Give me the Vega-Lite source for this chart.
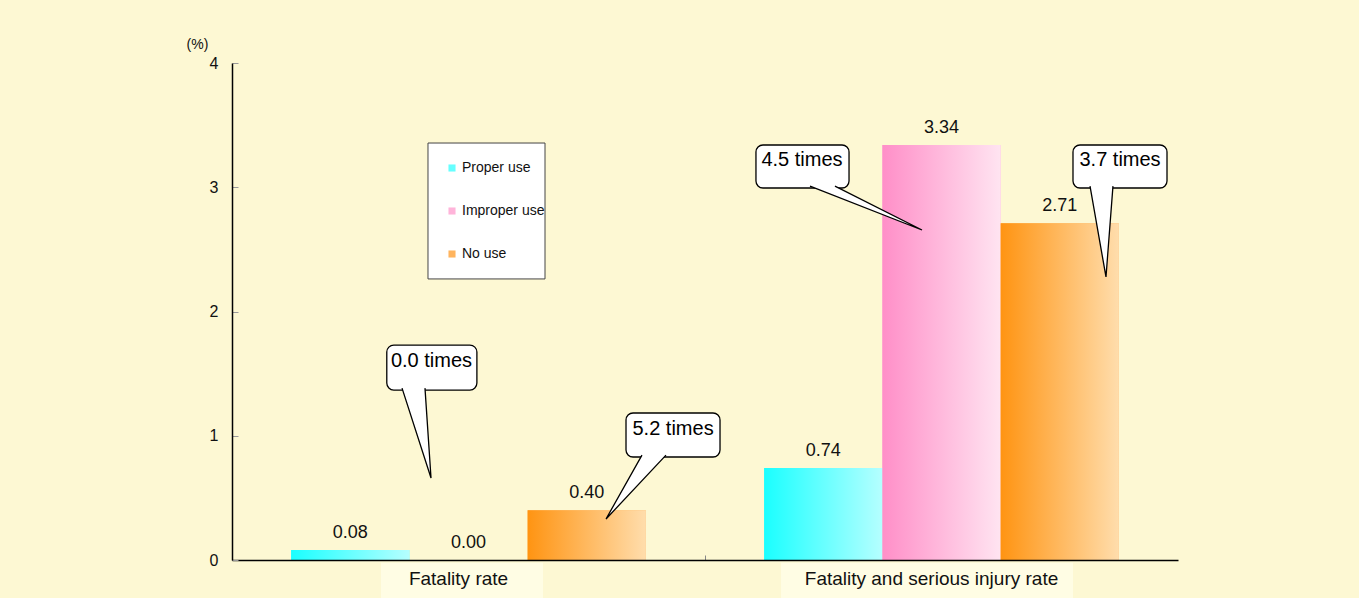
{
  "$schema": "https://vega.github.io/schema/vega-lite/v6.json",
  "width": 946,
  "height": 497,
  "autosize": {"type": "none"},
  "padding": {"left": 232, "top": 63, "right": 181, "bottom": 38},
  "background": "#FDF8D3",
  "config": {
    "view": {"stroke": null},
    "font": "Liberation Sans",
    "axis": {"labelFont": "Liberation Sans", "titleFont": "Liberation Sans", "labelColor": "#111", "titleColor": "#111", "grid": false, "domainColor": "#000", "domainWidth": 1.5},
    "axisY": {
      "titleAngle": 0,
      "titleX": -35,
      "titleY": -19,
      "titleAlign": "center",
      "titleBaseline": "middle",
      "titleFontSize": 14,
      "titleFontWeight": "normal",
      "labelFontSize": 16,
      "labelPadding": 20,
      "tickSize": -6,
      "tickColor": "#999"
    },
    "axisX": {
      "labelAngle": 0,
      "labelFontSize": 19,
      "labelPadding": 14,
      "labelBaseline": "top",
      "labelLimit": 500,
      "labelOffset": -10,
      "tickSize": -5,
      "tickColor": "#888"
    }
  },
  "datasets": {
    "rates": [
      {"measure": "Fatality rate", "use": "Proper use", "rate": 0.08},
      {"measure": "Fatality rate", "use": "Improper use", "rate": 0.00},
      {"measure": "Fatality rate", "use": "No use", "rate": 0.40},
      {"measure": "Fatality and serious injury rate", "use": "Proper use", "rate": 0.74},
      {"measure": "Fatality and serious injury rate", "use": "Improper use", "rate": 3.34},
      {"measure": "Fatality and serious injury rate", "use": "No use", "rate": 2.71}
    ],
    "callouts": [
      {"id": "c1", "label": "0.0 times", "left": 1.309, "right": 2.071, "top": 1.730, "bottom": 1.368, "tx": 1.687, "ty": 1.602},
      {"id": "c2", "label": "5.2 times", "left": 3.332, "right": 4.127, "top": 1.183, "bottom": 0.829, "tx": 3.730, "ty": 1.055},
      {"id": "c3", "label": "4.5 times", "left": 4.431, "right": 5.218, "top": 3.340, "bottom": 2.994, "tx": 4.820, "ty": 3.219},
      {"id": "c4", "label": "3.7 times", "left": 7.112, "right": 7.907, "top": 3.340, "bottom": 2.994, "tx": 7.510, "ty": 3.219}
    ],
    "tails": [
      {"id": "c1", "k": 0, "x": 1.438, "y": 1.383},
      {"id": "c1", "k": 1, "x": 1.683, "y": 0.660},
      {"id": "c1", "k": 2, "x": 1.632, "y": 1.383},
      {"id": "c2", "k": 0, "x": 3.467, "y": 0.844},
      {"id": "c2", "k": 1, "x": 3.163, "y": 0.330},
      {"id": "c2", "k": 2, "x": 3.670, "y": 0.844},
      {"id": "c3", "k": 0, "x": 4.888, "y": 3.009},
      {"id": "c3", "k": 1, "x": 5.835, "y": 2.656},
      {"id": "c3", "k": 2, "x": 5.099, "y": 3.009},
      {"id": "c4", "k": 0, "x": 7.256, "y": 3.009},
      {"id": "c4", "k": 1, "x": 7.391, "y": 2.278},
      {"id": "c4", "k": 2, "x": 7.450, "y": 3.009}
    ],
    "panels": [
      {"kind": "label", "left": 1.26, "right": 2.63, "top": -0.022, "bottom": -0.31},
      {"kind": "label", "left": 4.643, "right": 7.112, "top": -0.022, "bottom": -0.31},
      {"kind": "legend", "left": 1.6575, "right": 2.647, "top": 3.356, "bottom": 2.262}
    ]
  },
  "layer": [
    {
      "layer": [
        {
          "data": {"name": "panels"},
          "mark": {"type": "rect"},
          "encoding": {
            "x": {"field": "left", "type": "quantitative", "scale": {"domain": [0, 8], "nice": false, "zero": false}, "axis": null},
            "x2": {"field": "right"},
            "y": {"field": "top", "type": "quantitative", "scale": {"domain": [0, 4], "nice": false}, "axis": {"title": "(%)", "values": [0, 1, 2, 3, 4], "format": "d", "zindex": 1}},
            "y2": {"field": "bottom"},
            "fill": {"condition": {"test": "datum.kind === 'legend'", "value": "white"}, "value": "#FFFDE4"},
            "stroke": {"condition": {"test": "datum.kind === 'legend'", "value": "#444"}, "value": null},
            "strokeWidth": {"value": 1}
          }
        }
      ]
    },
    {
      "layer": [
        {
          "data": {"name": "rates"},
          "mark": {"type": "bar"},
          "encoding": {
            "x": {
              "field": "measure",
              "type": "nominal",
              "sort": ["Fatality rate", "Fatality and serious injury rate"],
              "scale": {"paddingInner": 0, "paddingOuter": 0},
              "axis": {"title": null, "bandPosition": 0, "zindex": 1}
            },
            "xOffset": {
              "field": "use",
              "type": "nominal",
              "sort": ["Proper use", "Improper use", "No use"],
              "scale": {"paddingInner": 0, "paddingOuter": 0.5}
            },
            "y": {
              "field": "rate",
              "type": "quantitative",
              "scale": {"domain": [0, 4], "nice": false},
              "axis": {"title": "(%)", "values": [0, 1, 2, 3, 4], "format": "d", "zindex": 1}
            },
            "fill": {
              "field": "use",
              "type": "nominal",
              "scale": {
                "domain": ["Proper use", "Improper use", "No use"],
                "range": ["#66FFFF", "#FFB4DA", "#FFB45E"]
              },
              "legend": {
                "orient": "none",
                "legendX": 213,
                "legendY": 98,
                "title": null,
                "symbolType": "square",
                "symbolSize": 50,
                "symbolStrokeWidth": 0,
                "labelFont": "Liberation Sans",
                "labelFontSize": 14,
                "labelColor": "#111",
                "labelOffset": 3,
                "padding": 0,
                "rowPadding": 29,
                "encode": {
                  "symbols": {
                    "update": {
                      "fill": [
                        {"test": "datum.value === 'Proper use'", "value": {"gradient": "linear", "x1": 0, "x2": 1, "y1": 0, "y2": 0, "stops": [{"offset": 0, "color": "#1AFFFF"}, {"offset": 1, "color": "#B5FFFF"}]}},
                        {"test": "datum.value === 'Improper use'", "value": {"gradient": "linear", "x1": 0, "x2": 1, "y1": 0, "y2": 0, "stops": [{"offset": 0, "color": "#FF8FC8"}, {"offset": 1, "color": "#FFE4F1"}]}},
                        {"value": {"gradient": "linear", "x1": 0, "x2": 1, "y1": 0, "y2": 0, "stops": [{"offset": 0, "color": "#FF9412"}, {"offset": 1, "color": "#FFDDAC"}]}}
                      ]
                    }
                  }
                }
              }
            }
          }
        },
        {
          "data": {"name": "rates"},
          "mark": {"type": "bar"},
          "encoding": {
            "x": {"field": "measure", "type": "nominal", "sort": ["Fatality rate", "Fatality and serious injury rate"]},
            "xOffset": {"field": "use", "type": "nominal", "sort": ["Proper use", "Improper use", "No use"]},
            "y": {"field": "rate", "type": "quantitative", "scale": {"domain": [0, 4], "nice": false}},
            "fill": {
              "condition": [
                {"test": "datum.use === 'Proper use'", "value": {"gradient": "linear", "x1": 0, "x2": 1, "y1": 0, "y2": 0, "stops": [{"offset": 0, "color": "#1AFFFF"}, {"offset": 1, "color": "#B5FFFF"}]}},
                {"test": "datum.use === 'Improper use'", "value": {"gradient": "linear", "x1": 0, "x2": 1, "y1": 0, "y2": 0, "stops": [{"offset": 0, "color": "#FF8FC8"}, {"offset": 1, "color": "#FFE4F1"}]}}
              ],
              "value": {"gradient": "linear", "x1": 0, "x2": 1, "y1": 0, "y2": 0, "stops": [{"offset": 0, "color": "#FF9412"}, {"offset": 1, "color": "#FFDDAC"}]}
            }
          }
        },
        {
          "data": {"name": "rates"},
          "mark": {"type": "text", "fontSize": 18, "baseline": "alphabetic", "dy": -12, "color": "#111"},
          "encoding": {
            "x": {"field": "measure", "type": "nominal", "sort": ["Fatality rate", "Fatality and serious injury rate"]},
            "xOffset": {"field": "use", "type": "nominal", "sort": ["Proper use", "Improper use", "No use"]},
            "y": {"field": "rate", "type": "quantitative", "scale": {"domain": [0, 4], "nice": false}},
            "text": {"field": "rate", "type": "quantitative", "format": ".2f"}
          }
        }
      ]
    },
    {
      "layer": [
        {
          "data": {"name": "callouts"},
          "mark": {"type": "rect", "fill": "white", "stroke": "#000", "strokeWidth": 1.3, "cornerRadius": 7},
          "encoding": {
            "x": {"field": "left", "type": "quantitative", "scale": {"domain": [0, 8], "nice": false, "zero": false}, "axis": null},
            "x2": {"field": "right"},
            "y": {"field": "top", "type": "quantitative", "scale": {"domain": [0, 4], "nice": false}},
            "y2": {"field": "bottom"}
          }
        },
        {
          "data": {"name": "tails"},
          "mark": {"type": "line", "fill": "white", "stroke": "#000", "strokeWidth": 1.3, "interpolate": "linear"},
          "encoding": {
            "x": {"field": "x", "type": "quantitative", "scale": {"domain": [0, 8], "nice": false, "zero": false}, "axis": null},
            "y": {"field": "y", "type": "quantitative", "scale": {"domain": [0, 4], "nice": false}},
            "detail": {"field": "id", "type": "nominal"},
            "order": {"field": "k", "type": "quantitative"}
          }
        },
        {
          "data": {"name": "callouts"},
          "mark": {"type": "text", "fontSize": 20, "align": "center", "baseline": "middle", "color": "#000"},
          "encoding": {
            "x": {"field": "tx", "type": "quantitative", "scale": {"domain": [0, 8], "nice": false, "zero": false}, "axis": null},
            "y": {"field": "ty", "type": "quantitative", "scale": {"domain": [0, 4], "nice": false}},
            "text": {"field": "label", "type": "nominal"}
          }
        }
      ]
    }
  ],
  "resolve": {"scale": {"x": "independent"}}
}
